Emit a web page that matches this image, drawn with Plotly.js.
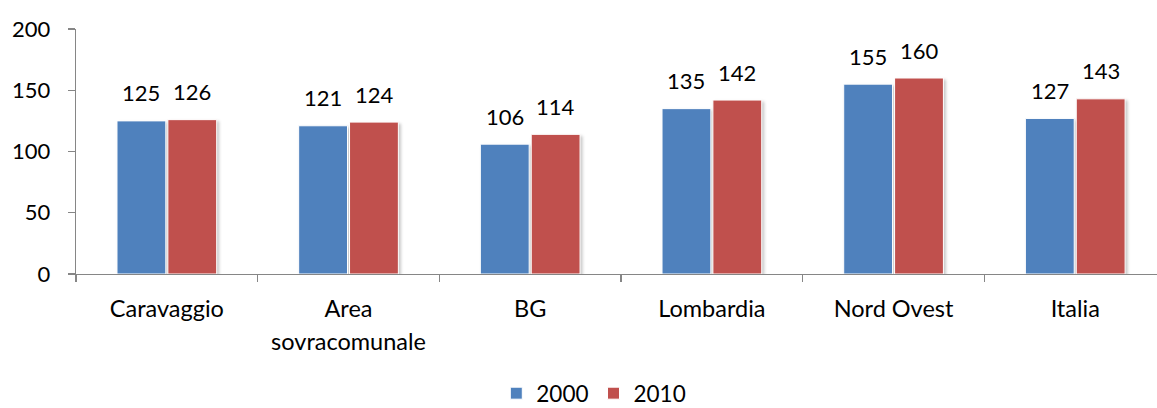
<!DOCTYPE html>
<html>
<head>
<meta charset="utf-8">
<script src="https://cdn.plot.ly/plotly-3.0.1.min.js"></script>
<style>
html,body{margin:0;padding:0;background:#fff;overflow:hidden;}
#chart{width:1157px;height:408px;}
.barlayer .point path{filter:drop-shadow(2px 2px 1.5px rgba(0,0,0,0.22));}
</style>
</head>
<body>
<div id="chart"></div>
<script>
const categories = ["Caravaggio", "Area<br><span style='baseline-shift:-2.5px'>sovracomunale</span>", "BG", "Lombardia", "Nord Ovest", "Italia"];
const seriesNames = ["2000", "2010"];
const values2000 = [125, 121, 106, 135, 155, 127];
const values2010 = [126, 124, 114, 142, 160, 143];
const yTicks = [0, 50, 100, 150, 200];

const colors = ["#4F81BD", "#C0504D"];
const font = "Lato, 'Open Sans', sans-serif";

const series = [values2000, values2010];
const traces = series.map((vals, s) => ({
  type: "bar",
  name: seriesNames[s],
  x: categories,
  y: vals,
  marker: {color: colors[s], line: {color: "#ffffff", width: 1}},
  hoverinfo: "skip"
}));

const annotations = [];
series.forEach((vals, s) => {
  vals.forEach((v, i) => {
    annotations.push({
      x: categories[i], y: v, xref: "x", yref: "y",
      text: String(v), showarrow: false,
      xshift: s === 0 ? -25.5 : 25.5, yshift: 28, yanchor: "middle",
      font: {family: font, size: 22, color: "#000"}
    });
  });
});

const layout = {
  width: 1157, height: 408,
  margin: {l: 76, r: 0, t: 29, b: 134, autoexpand: false},
  paper_bgcolor: "#fff", plot_bgcolor: "#fff",
  font: {family: font, size: 22, color: "#000"},
  barmode: "group", bargap: 0.44, bargroupgap: 0.04,
  showlegend: true,
  legend: {orientation: "h", x: 0.479, xanchor: "center", y: -0.488, yanchor: "middle",
           font: {family: font, size: 22.5, color: "#000"}, itemwidth: 30, traceorder: "normal"},
  xaxis: {
    type: "category", range: [-0.5, 5.45], automargin: false,
    showline: true, linecolor: "#868686", linewidth: 1.3,
    ticks: "outside", tickson: "boundaries", ticklen: 7, tickcolor: "#868686", tickwidth: 1.3,
    showgrid: false, zeroline: false, fixedrange: true,
    tickfont: {family: font, size: 23.5, color: "#000"}, ticklabelstandoff: 13
  },
  yaxis: {
    range: [0, 200], tickvals: yTicks, ticktext: yTicks.map(String), automargin: false,
    showline: true, linecolor: "#868686", linewidth: 1.3,
    ticks: "outside", ticklen: 7, tickcolor: "#868686", tickwidth: 1.3,
    showgrid: false, zeroline: false, fixedrange: true,
    tickfont: {family: font, size: 22, color: "#000"}, ticklabelstandoff: 13
  },
  annotations: annotations
};

Plotly.newPlot("chart", traces, layout, {displayModeBar: false, staticPlot: true});
</script>
</body>
</html>
